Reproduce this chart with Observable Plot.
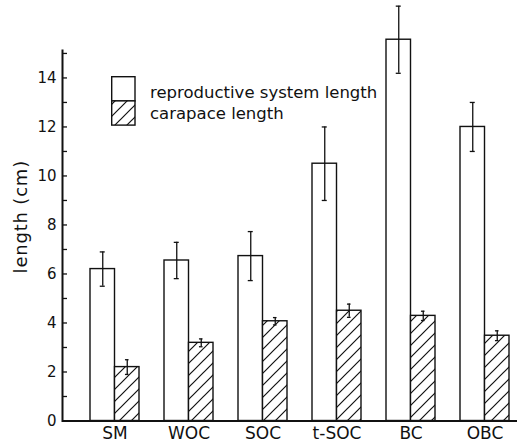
<!DOCTYPE html>
<html>
<head>
<meta charset="utf-8">
<script src="https://cdn.jsdelivr.net/npm/d3@7"></script>
<script src="https://cdn.jsdelivr.net/npm/@observablehq/plot@0.6"></script>
<style>
  html, body { margin: 0; padding: 0; background: #fff; }
  #chart { position: relative; width: 517px; height: 443px; overflow: hidden; }
  #chart svg { display: block; }
</style>
</head>
<body>
<div id="chart"></div>
<script>
// ---- data ----
const categories = ["SM", "WOC", "SOC", "t-SOC", "BC", "OBC"];
const series = ["reproductive system length", "carapace length"];
const reproMean = [6.2, 6.55, 6.73, 10.5, 15.56, 12.0];
const reproErr = [0.7, 0.74, 1.0, 1.5, 1.37, 1.0];
const carapaceMean = [2.2, 3.19, 4.07, 4.5, 4.29, 3.48];
const carapaceErr = [0.3, 0.16, 0.15, 0.27, 0.19, 0.2];
const yMajorTicks = [0, 2, 4, 6, 8, 10, 12, 14];
const yMinorTicks = [1, 3, 5, 7, 9, 11, 13, 15];
const yLabel = "length (cm)";

// ---- layout / style ----
const W = 517, H = 443;
const ink = "#111";
const yTop = 15.12;
const halfBand = 24.5, errOffset = 12.25;
const yLabelCenter = [20, 216.7];

const repro = categories.map((c, i) => ({category: c, series: series[0], value: reproMean[i], err: reproErr[i]}));
const carapace = categories.map((c, i) => ({category: c, series: series[1], value: carapaceMean[i], err: carapaceErr[i]}));

function errorMarks(data, dx, capInset) {
  return [
    Plot.ruleX(data, {x: "category", y1: d => d.value - d.err, y2: d => d.value + d.err, dx, stroke: ink, strokeWidth: 1.3}),
    Plot.tickY(data, {x: "category", y: d => d.value - d.err, dx, insetLeft: capInset, insetRight: capInset, stroke: ink, strokeWidth: 1.3}),
    Plot.tickY(data, {x: "category", y: d => d.value + d.err, dx, insetLeft: capInset, insetRight: capInset, stroke: ink, strokeWidth: 1.3})
  ];
}

const chart = Plot.plot({
  width: W,
  height: H,
  marginTop: 50,
  marginRight: 0,
  marginBottom: 22.5,
  marginLeft: 62,
  style: {fontFamily: "'DejaVu Sans', sans-serif", background: "white", color: ink, overflow: "visible"},
  x: {domain: categories, paddingInner: 0.339, paddingOuter: 0.24, align: 0.77, label: null},
  y: {domain: [0, yTop], label: null},
  marks: [
    Plot.barY(repro, {x: "category", y: "value", fill: "white", stroke: ink, strokeWidth: 1.4, insetRight: halfBand}),
    Plot.barY(carapace, {x: "category", y: "value", fill: "url(#hatch)", stroke: ink, strokeWidth: 1.4, insetLeft: halfBand}),
    ...errorMarks(repro, -errOffset, 22),
    ...errorMarks(carapace, errOffset, 22.7),
    Plot.ruleY([0], {stroke: ink, strokeWidth: 2}),
    Plot.frame({anchor: "left", stroke: ink, strokeWidth: 2}),
    Plot.axisY(yMinorTicks, {tickSize: -5, tickFormat: () => "", stroke: ink, strokeWidth: 1.3}),
    Plot.axisY(yMajorTicks, {tickSize: -5, tickPadding: 11, fontSize: 15, stroke: ink, strokeWidth: 1.3, fill: ink}),
    Plot.axisX({tickSize: 0, tickPadding: 6, fontSize: 17, fill: ink}),
    Plot.text([yLabel], {frameAnchor: "left", dx: -42, dy: -18.5, rotate: -90, fontSize: 18, fill: ink, text: d => d})
  ]
});

// hatch pattern definition
d3.select(chart).insert("defs", ":first-child").html(
  `<pattern id="hatch" patternUnits="userSpaceOnUse" width="12" height="12">
     <rect width="12" height="12" fill="white"/>
     <path d="M0,12 L12,0 M-3,3 L3,-3 M9,15 L15,9" stroke="${ink}" stroke-width="1.2"/>
   </pattern>`
);

const host = document.getElementById("chart");
host.appendChild(chart);

// make sure the rotated axis title is centred where the reference has it
const labelNode = d3.select(chart).selectAll("text").filter(function () { return this.textContent === yLabel; })
  .attr("letter-spacing", "0.8px").node();
if (labelNode) {
  const hostBox = host.getBoundingClientRect();
  const b = labelNode.getBoundingClientRect();
  const cx = b.left - hostBox.left + b.width / 2;
  const cy = b.top - hostBox.top + b.height / 2;
  const old = labelNode.getAttribute("transform") || "";
  labelNode.setAttribute("transform", `translate(${yLabelCenter[0] - cx},${yLabelCenter[1] - cy}) ${old}`);
}

// legend (inside the plot area, upper left)
const legend = d3.select("#chart").append("svg")
  .attr("width", W).attr("height", H)
  .style("position", "absolute").style("left", "0").style("top", "0")
  .style("pointer-events", "none")
  .style("font-family", "'DejaVu Sans', sans-serif");
const legX = 111.7, legY = 76.7, swW = 23.3, swH = 24.2;
const legFills = ["white", "url(#hatch)"];
legend.selectAll("rect").data(series).join("rect")
  .attr("x", legX).attr("y", (d, i) => legY + i * swH)
  .attr("width", swW).attr("height", swH)
  .attr("fill", (d, i) => legFills[i]).attr("stroke", ink).attr("stroke-width", 1.4);
legend.selectAll("text").data(series).join("text")
  .attr("x", 150).attr("y", (d, i) => legY + 21.6 + i * 21)
  .attr("font-size", 16.5).attr("fill", ink)
  .text(d => d);
</script>
</body>
</html>
